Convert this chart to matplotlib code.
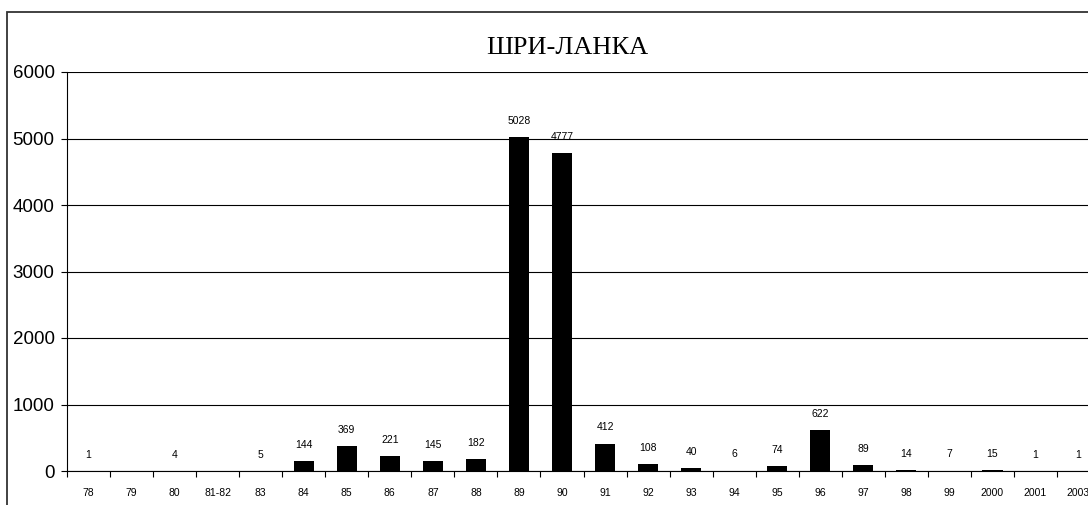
import matplotlib.pyplot as plt
import matplotlib.patches as mpatches
import numpy as np

years = ['78', '79', '80', '81-82', '83', '84', '85', '86', '87', '88', '89', '90',
         '91', '92', '93', '94', '95', '96', '97', '98', '99', '2000', '2001', '2003']
counts = [1, None, 4, None, 5, 144, 369, 221, 145, 182, 5028, 4777,
          412, 108, 40, 6, 74, 622, 89, 14, 7, 15, 1, 1]

fig = plt.figure(figsize=(10.88, 5.05), dpi=100)
W, H = 1088, 505
ax = fig.add_axes([67 / W, (H - 471) / H, (1100 - 67) / W, (471 - 72) / H])

# outer chart-area border (top and left visible in the reference)
fig.patches.append(mpatches.Rectangle((7 / W, -0.1), 1.2, (H - 12) / H + 0.1,
                                      transform=fig.transFigure, fill=False,
                                      edgecolor='#333333', linewidth=1.3))

x = np.arange(len(years))
vals = np.array([np.nan if v is None else v for v in counts], dtype=float)
ax.bar(x, np.nan_to_num(vals), width=0.47, color='black', zorder=3)

for xi, v in zip(x, counts):
    if v is None:
        continue
    ax.annotate(str(v), (xi, v), xytext=(0, 8), textcoords='offset points',
                ha='center', va='bottom', fontsize=7.5, family='Liberation Sans')

ax.set_xlim(-0.5, len(years) - 0.5)
ax.set_ylim(0, 6000)
ax.set_yticks(range(0, 6001, 1000))
ax.yaxis.grid(True, color='black', linewidth=0.8, zorder=0)
ax.set_axisbelow(True)

ax.set_xticks(x)
ax.set_xticklabels(years, fontsize=7.5, family='Liberation Sans')
ax.set_xticks(np.arange(-0.5, len(years), 1.0), minor=True)
ax.tick_params(axis='x', which='major', length=0, pad=12)
ax.tick_params(axis='x', which='minor', length=4, width=0.8, direction='out')
ax.tick_params(axis='y', length=4, width=0.8, labelsize=13.5, pad=5)
for lbl in ax.get_yticklabels():
    lbl.set_family('Liberation Sans')

for s in ['top', 'right']:
    ax.spines[s].set_visible(False)
ax.spines['left'].set_linewidth(0.8)
ax.spines['bottom'].set_linewidth(0.8)

fig.text(567 / W, (H - 48) / H, 'ШРИ-ЛАНКА', ha='center', va='center',
         fontsize=19, family='Liberation Serif')

fig.savefig('out.png', dpi=100)
